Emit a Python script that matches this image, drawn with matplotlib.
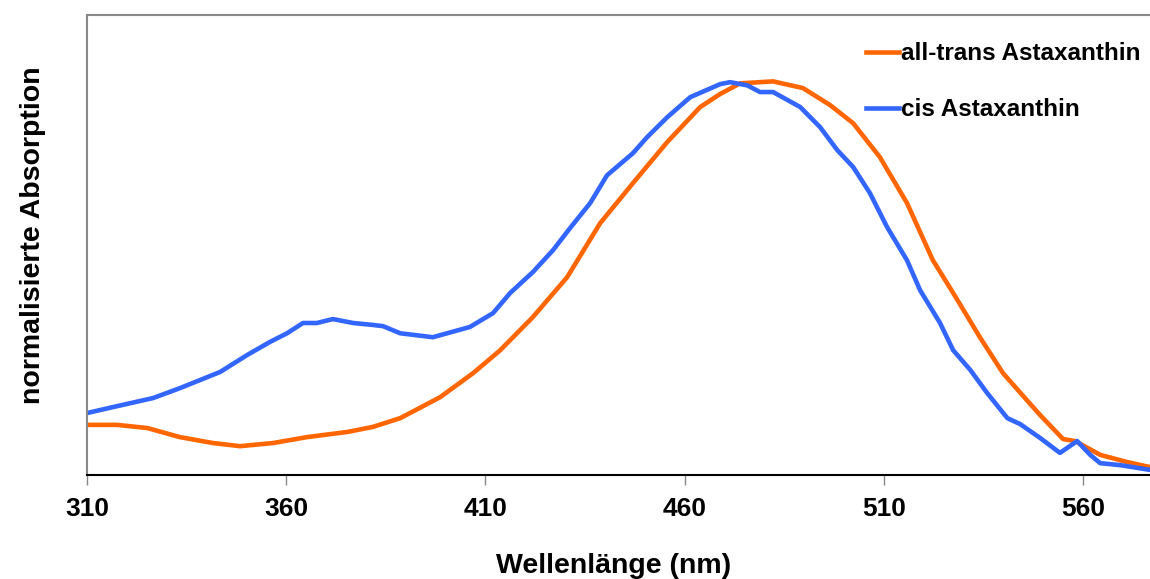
import numpy as np
import matplotlib.pyplot as plt

plt.rcParams['font.family'] = ['Liberation Sans', 'DejaVu Sans']
plt.rcParams['font.weight'] = 'bold'

# all-trans Astaxanthin
trans_nm = [310.0, 317.5, 325.1, 333.3, 341.6, 348.4, 356.7, 365.2, 375.3, 381.8,
            388.6, 398.6, 406.9, 413.7, 421.9, 430.5, 438.8, 447.0, 455.6, 463.9,
            468.9, 473.9, 482.2, 489.7, 496.5, 502.3, 509.0, 515.8, 522.3, 527.4,
            534.1, 539.9, 549.2, 555.0, 558.0, 564.3, 571.0, 576.8]
trans_abs = [0.127, 0.127, 0.119, 0.096, 0.081, 0.073, 0.081, 0.096, 0.109, 0.122,
             0.144, 0.197, 0.258, 0.316, 0.400, 0.501, 0.638, 0.739, 0.843, 0.932,
             0.965, 0.992, 0.997, 0.980, 0.937, 0.891, 0.805, 0.689, 0.544, 0.461,
             0.349, 0.258, 0.152, 0.091, 0.086, 0.051, 0.033, 0.020]

# cis Astaxanthin
cis_nm = [310.0, 316.5, 326.6, 333.3, 343.4, 350.2, 355.9, 360.2, 364.2, 367.7,
          371.7, 376.8, 381.8, 384.3, 388.6, 396.8, 406.1, 411.9, 416.2, 421.9,
          427.0, 431.2, 436.3, 440.5, 447.0, 450.6, 455.6, 461.4, 468.9, 471.4,
          475.7, 478.9, 482.2, 489.0, 494.0, 498.3, 502.3, 506.5, 510.8, 515.8,
          519.1, 524.1, 527.4, 531.7, 535.9, 541.0, 544.2, 549.2, 554.2, 558.5,
          561.8, 564.3, 569.3, 576.8]
cis_abs = [0.157, 0.172, 0.195, 0.220, 0.261, 0.304, 0.337, 0.359, 0.385, 0.385,
           0.395, 0.385, 0.380, 0.377, 0.359, 0.349, 0.375, 0.410, 0.461, 0.514,
           0.570, 0.625, 0.689, 0.759, 0.815, 0.856, 0.906, 0.957, 0.990, 0.995,
           0.987, 0.970, 0.970, 0.932, 0.881, 0.823, 0.780, 0.714, 0.628, 0.544,
           0.468, 0.385, 0.316, 0.266, 0.208, 0.144, 0.129, 0.094, 0.056, 0.086,
           0.051, 0.030, 0.025, 0.013]

x_ticks = [310, 360, 410, 460, 510, 560]

fig = plt.figure(figsize=(11.5, 5.79), dpi=100)
ax = fig.add_axes([0.0757, 0.1796, 0.9243, 0.7944])

ax.plot(trans_nm, trans_abs, color='#ff6600', lw=3.3, label='all-trans Astaxanthin',
        solid_joinstyle='round')
ax.plot(cis_nm, cis_abs, color='#3366ff', lw=3.3, label='cis Astaxanthin',
        solid_joinstyle='round')

ax.set_xlim(310, 576.8)
ax.set_ylim(0, 1.165)
ax.set_xticks(x_ticks)
ax.set_xticklabels([str(t) for t in x_ticks], fontsize=19, fontweight='bold')
ax.set_yticks([])
ax.tick_params(axis='x', length=7, width=1, color='#888888', pad=9)

ax.spines['right'].set_visible(False)
ax.spines['left'].set_color('#888888')
ax.spines['top'].set_color('#888888')
ax.spines['bottom'].set_color('black')
for s in ax.spines.values():
    s.set_linewidth(1.5)

ax.set_xlabel('Wellenlänge (nm)', fontsize=20.5, fontweight='bold')
ax.xaxis.set_label_coords(0.495, -0.17)
ax.set_ylabel('normalisierte Absorption', fontsize=20.5, fontweight='bold')
ax.yaxis.set_label_coords(-0.039, 0.522)

ax.legend(loc='upper right', bbox_to_anchor=(1.012, 0.988), frameon=False,
          prop={'size': 17.5, 'weight': 'bold'}, handlelength=1.35, handletextpad=0.1,
          labelspacing=1.35)

fig.savefig('out.png', dpi=100)
